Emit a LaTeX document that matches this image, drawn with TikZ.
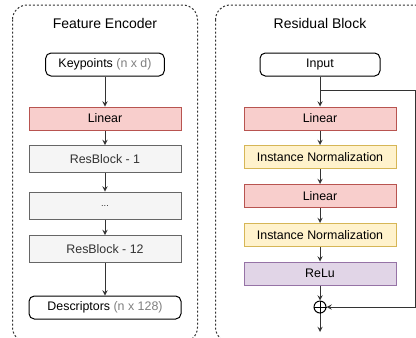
\documentclass[tikz,border=0pt]{standalone}
\usepackage{fontspec}
\setmainfont{Liberation Sans}
\usepackage{tikz}
\usetikzlibrary{arrows,positioning}

\definecolor{redfill}{HTML}{F8CECC}
\definecolor{redline}{HTML}{B85450}
\definecolor{yelfill}{HTML}{FFF2CC}
\definecolor{yelline}{HTML}{D6B656}
\definecolor{purfill}{HTML}{E1D5E7}
\definecolor{purline}{HTML}{9673A6}
\definecolor{greyfill}{HTML}{F5F5F5}
\definecolor{greyline}{HTML}{666666}
\definecolor{greytext}{HTML}{333333}
\definecolor{dimtext}{HTML}{808080}
\definecolor{edge}{HTML}{333333}

\begin{document}
\begin{tikzpicture}[x=0.75pt, y=-0.75pt, >=stealth, font=\fontsize{9.3}{11}\selectfont]
		\tikzstyle{box}=[draw, line width=0.75pt, minimum width=114pt, minimum height=17.25pt, inner sep=0pt];
		\tikzstyle{io}=[box, draw=black, fill=white, rounded corners=4pt];
		\tikzstyle{lin}=[box, draw=redline, fill=redfill];
		\tikzstyle{norm}=[box, draw=yelline, fill=yelfill];
		\tikzstyle{act}=[box, draw=purline, fill=purfill];
		\tikzstyle{res}=[box, draw=greyline, fill=greyfill, text=greytext, minimum height=20.25pt];
		\tikzstyle{panel}=[draw=edge, line width=0.75pt, dash pattern=on 1.5pt off 1.5pt, rounded corners=11pt];
		\tikzstyle{flow}=[->, draw=edge, line width=0.75pt];
		\tikzstyle{title}=[font=\fontsize{10.5}{12}\selectfont];

		\useasboundingbox (0,0) rectangle (416,337);
		\clip (0,0) rectangle (416,337);

		% panels
		\draw[panel] (12.5,5) rectangle (197.5,342);
		\draw[panel] (215.5,5) rectangle (436,342);
		\node[title] (enctitle) at (105,23) {Feature Encoder};
		\node[title] (restitle) at (320,23) {Residual Block};

		% feature encoder
		\node[io, minimum width=89pt] (keypts) at (105,64.5) {Keypoints \textcolor{dimtext}{(n x d)}};
		\node[lin] (enclin) at (105,118.5) {Linear};
		\node[res] (rb1) at (105,159) {ResBlock - 1};
		\node[res] (rbdots) at (105,205.5) {\raisebox{-2pt}{\fontsize{7}{8}\selectfont ...}};
		\node[res] (rb12) at (105,249) {ResBlock - 12};
		\node[io] (descr) at (105,307.5) {Descriptors \textcolor{dimtext}{(n x 128)}};

		\draw[flow] (keypts) -- (enclin);
		\draw[flow] (enclin) -- (rb1);
		\draw[flow] (rb1) -- (rbdots);
		\draw[flow] (rbdots) -- (rb12);
		\draw[flow] (rb12) -- (descr);

		% residual block
		\node[io, minimum width=90pt] (input) at (320,64.5) {Input};
		\node[lin] (lin1) at (320,118.5) {Linear};
		\node[norm] (norm1) at (320,157) {Instance Normalization};
		\node[lin] (lin2) at (320,196) {Linear};
		\node[norm] (norm2) at (320,235) {Instance Normalization};
		\node[act] (relu) at (320,273.5) {ReLu};
		\node[draw=black, line width=0.75pt, circle, minimum size=9pt, inner sep=0pt] (add) at (320,307) {};
		\draw[line width=0.6pt] (add.north) -- (add.south) (add.west) -- (add.east);
		\coordinate (output) at (320,332);
		\coordinate (branch) at (320,90);
		\coordinate (skip) at (415,90);

		\draw[flow] (input) -- (lin1);
		\draw[flow] (lin1) -- (norm1);
		\draw[flow] (norm1) -- (lin2);
		\draw[flow] (lin2) -- (norm2);
		\draw[flow] (norm2) -- (relu);
		\draw[flow] (relu) -- (add);
		\draw[flow] (add) -- (output);
		\draw[flow] (branch) -- (skip) |- (add);
	\end{tikzpicture}
\end{document}
